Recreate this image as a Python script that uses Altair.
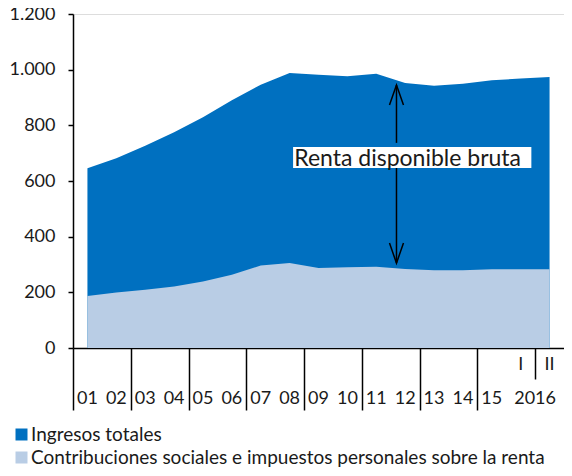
import altair as alt
import pandas as pd

# ---- data ----
periodos = ["01", "02", "03", "04", "05", "06", "07", "08", "09", "10",
            "11", "12", "13", "14", "15", "2016-I", "2016-II"]
ingresos_totales = [646, 682, 727, 775, 829, 890, 946, 988, 982, 976,
                    985, 952, 942, 949, 962, 968, 974]
contribuciones = [187, 199, 209, 221, 239, 263, 296, 305, 287, 290,
                  292, 284, 279, 279, 283, 283, 283]
etiquetas_anio = ["01", "02", "03", "04", "05", "06", "07", "08", "09", "10",
                  "11", "12", "13", "14", "15"]
etiquetas_semestre = ["I", "II"]
etiqueta_2016 = "2016"
series = ["Ingresos totales",
          "Contribuciones sociales e impuestos personales sobre la renta"]
y_ticks = [0, 200, 400, 600, 800, 1000, 1200]
anotacion = "Renta disponible bruta"

# ---- styling ----
FONT = "Lato"
DARK = "#0070C0"
LIGHT = "#B9CDE5"
TXT = "#1a1a1a"

n = len(periodos)
idx = list(range(n))
df_tot = pd.DataFrame({"i": idx, "valor": ingresos_totales, "serie": series[0]})
df_con = pd.DataFrame({"i": idx, "valor": contribuciones, "serie": series[1]})

bounds = [i - 0.5 for i in range(n)]
short_tick = n - 1.5  # boundary between the two 2016 halves

df_year_lab = pd.DataFrame({
    "i": list(range(len(etiquetas_anio))) + [(n - 2 + n - 1) / 2],
    "lab": etiquetas_anio + [etiqueta_2016],
})
df_sem_lab = pd.DataFrame({"i": [n - 2, n - 1], "lab": etiquetas_semestre})

xscale = alt.Scale(domain=[-0.5, n - 0.5], nice=False, zero=False)
yscale = alt.Scale(domain=[0, 1200], nice=False, zero=True)

x_axis = alt.Axis(
    values=bounds, labels=False, title=None, grid=False,
    domainColor="black", domainWidth=1.5,
    tickColor="black", tickWidth=1.5,
    tickSize={"condition": {"test": f"datum.value == {short_tick}", "value": 31}, "value": 62},
)
y_axis = alt.Axis(
    values=y_ticks, title=None, grid=False,
    labelExpr="replace(format(datum.value, ','), ',', '.')",
    labelFont=FONT, labelFontSize=18, labelColor=TXT, labelPadding=13,
    domainColor="black", domainWidth=1.5,
    tickColor="black", tickWidth=1.5, tickSize=5,
)

color = alt.Color(
    "serie:N",
    scale=alt.Scale(domain=series, range=[DARK, LIGHT]),
    legend=alt.Legend(
        title=None, orient="none", legendX=-61, legendY=411,
        direction="vertical", symbolType="square", symbolSize=144,
        symbolStrokeWidth=0, symbolOpacity=1,
        labelFont=FONT, labelFontSize=19, labelColor=TXT,
        labelOffset=0, rowPadding=3, padding=0, labelLimit=600,
    ),
)

area_tot = alt.Chart(df_tot).mark_area(interpolate="linear", opacity=1).encode(
    x=alt.X("i:Q", scale=xscale, axis=x_axis),
    y=alt.Y("valor:Q", scale=yscale, axis=y_axis),
    color=color,
)
area_con = alt.Chart(df_con).mark_area(interpolate="linear", opacity=1).encode(
    x=alt.X("i:Q", scale=xscale),
    y=alt.Y("valor:Q", scale=yscale),
    color=color,
)

# annotation: double arrow + boxed label
arrow_x = 10.70
df_shaft = pd.DataFrame({"x": [arrow_x, arrow_x], "y": [945, 647], "y2": [737, 305]})
shaft = alt.Chart(df_shaft).mark_rule(color="black", strokeWidth=1.5).encode(
    x=alt.X("x:Q", scale=xscale), y=alt.Y("y:Q", scale=yscale), y2="y2:Q"
)
df_head_up = pd.DataFrame({"x": [arrow_x], "y": [945]})
df_head_dn = pd.DataFrame({"x": [arrow_x], "y": [305]})
head_up = alt.Chart(df_head_up).mark_point(
    shape="M -0.35 1 L 0 0 L 0.35 1", filled=False, size=1600,
    color="black", strokeWidth=1.5, opacity=1,
).encode(x=alt.X("x:Q", scale=xscale), y=alt.Y("y:Q", scale=yscale))
head_dn = alt.Chart(df_head_dn).mark_point(
    shape="M -0.35 -1 L 0 0 L 0.35 -1", filled=False, size=1600,
    color="black", strokeWidth=1.5, opacity=1,
).encode(x=alt.X("x:Q", scale=xscale), y=alt.Y("y:Q", scale=yscale))

df_box = pd.DataFrame({"x": [7.12], "x2": [15.37], "y": [722], "y2": [647]})
box = alt.Chart(df_box).mark_rect(color="white").encode(
    x=alt.X("x:Q", scale=xscale), x2="x2:Q",
    y=alt.Y("y:Q", scale=yscale), y2="y2:Q",
)
df_txt = pd.DataFrame({"x": [7.16], "y": [654], "t": [anotacion]})
box_txt = alt.Chart(df_txt).mark_text(
    font=FONT, fontSize=23, align="left", baseline="alphabetic", color=TXT
).encode(x=alt.X("x:Q", scale=xscale), y=alt.Y("y:Q", scale=yscale), text="t:N")

# x tick labels
year_txt = alt.Chart(df_year_lab).mark_text(
    font=FONT, fontSize=18, align="center", baseline="middle", color=TXT
).encode(x=alt.X("i:Q", scale=xscale), y=alt.value(385), text="lab:N")
sem_txt = alt.Chart(df_sem_lab).mark_text(
    font=FONT, fontSize=18, align="center", baseline="middle", color=TXT
).encode(x=alt.X("i:Q", scale=xscale), y=alt.value(351), text="lab:N")

chart = alt.layer(
    area_tot, area_con, shaft, head_up, head_dn, box, box_txt, year_txt, sem_txt
).properties(
    width=491, height=334,
    padding={"left": 65, "top": 6, "right": 0, "bottom": 120},
    autosize=alt.AutoSizeParams(type="none"),
).configure_view(stroke=None).configure(background="white")

chart.save("out.html", embed_options={"renderer": "svg", "actions": False})
